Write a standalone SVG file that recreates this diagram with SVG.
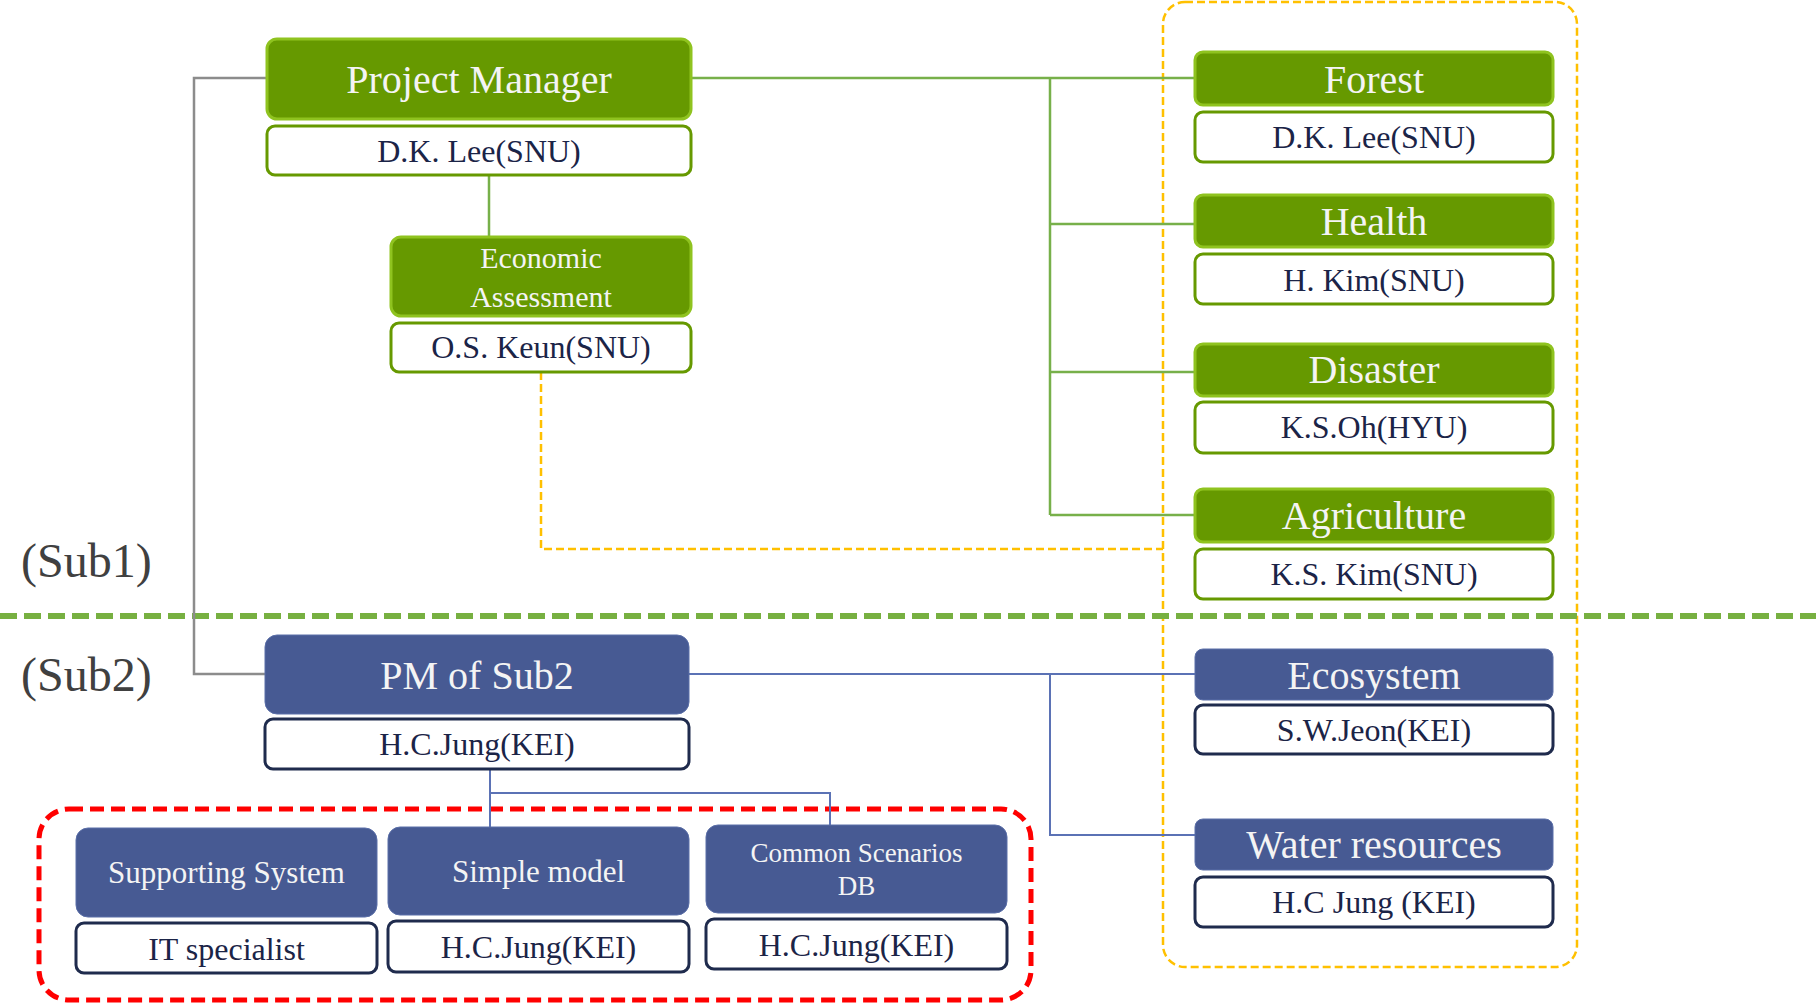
<svg xmlns="http://www.w3.org/2000/svg" width="1816" height="1008" viewBox="0 0 1816 1008">
<style>
text{font-family:"Liberation Serif","Times New Roman",serif;text-anchor:middle}
.gh{fill:#669900;stroke:#8fc31f;stroke-width:3}
.gp{fill:#fff;stroke:#669900;stroke-width:3}
.bh{fill:#475a93;stroke:#5b6fa8;stroke-width:1}
.bp{fill:#fff;stroke:#1f2b4d;stroke-width:3}
.ht{fill:#f4f4f4;font-size:40px}
.pt{fill:#1b2447;font-size:32px}
.st{fill:#f4f4f4;font-size:31px}
.cg{stroke:#77b04a;stroke-width:2.5;fill:none}
.cb{stroke:#5b72b5;stroke-width:2;fill:none}
.cy{stroke:#ffc000;stroke-width:2.5;fill:none;stroke-dasharray:8 4}
.cgr{stroke:#8c8c8c;stroke-width:2.5;fill:none}
.lbl{fill:#404040;font-size:48px;text-anchor:start}
</style>
<rect width="1816" height="1008" fill="#fff"/>
<g id="frames">
<rect x="1163" y="2" width="414" height="965" rx="22" class="cy"/>
<rect x="39" y="809" width="992" height="191" rx="30" fill="none" stroke="#ff0000" stroke-width="5" stroke-dasharray="14 7"/>
<line x1="0" y1="616" x2="1816" y2="616" stroke="#77b041" stroke-width="6" stroke-dasharray="17 7"/>
</g>
<g id="labels">
<text x="21" y="577" class="lbl">(Sub1)</text>
<text x="21" y="691" class="lbl">(Sub2)</text>
</g>
<g id="connectors">
<path class="cgr" d="M267 78 H194 V674 H265"/>
<path class="cg" d="M691 78 H1195 M1050 78 V515 M1050 224 H1195 M1050 372 H1195 M1050 515 H1195 M489 175 V237"/>
<path class="cy" d="M541 372 V549 H1163"/>
<path class="cb" d="M689 674 H1195 M1050 674 V835 H1195 M490 769 V827 M490 793 H830 V825"/>
</g>
<g id="pm">
<rect x="267" y="39" width="424" height="80" rx="10" class="gh"/>
<text x="479" y="93" class="ht">Project Manager</text>
<rect x="267" y="126" width="424" height="49" rx="8" class="gp"/>
<text x="479" y="162" class="pt">D.K. Lee(SNU)</text>
</g>
<g id="econ">
<rect x="391" y="237" width="300" height="79" rx="10" class="gh"/>
<text x="541" y="268" class="ht" style="font-size:30px">Economic</text>
<text x="541" y="307" class="ht" style="font-size:30px">Assessment</text>
<rect x="391" y="323" width="300" height="49" rx="8" class="gp"/>
<text x="541" y="358" class="pt">O.S. Keun(SNU)</text>
</g>
<g id="forest">
<rect x="1195" y="52" width="358" height="53" rx="8" class="gh"/>
<text x="1374" y="93" class="ht">Forest</text>
<rect x="1195" y="112" width="358" height="50" rx="8" class="gp"/>
<text x="1374" y="148" class="pt">D.K. Lee(SNU)</text>
</g>
<g id="health">
<rect x="1195" y="195" width="358" height="52" rx="8" class="gh"/>
<text x="1374" y="235" class="ht">Health</text>
<rect x="1195" y="254" width="358" height="50" rx="8" class="gp"/>
<text x="1374" y="291" class="pt">H. Kim(SNU)</text>
</g>
<g id="disaster">
<rect x="1195" y="344" width="358" height="52" rx="8" class="gh"/>
<text x="1374" y="383" class="ht">Disaster</text>
<rect x="1195" y="402" width="358" height="51" rx="8" class="gp"/>
<text x="1374" y="438" class="pt">K.S.Oh(HYU)</text>
</g>
<g id="agriculture">
<rect x="1195" y="489" width="358" height="53" rx="8" class="gh"/>
<text x="1374" y="529" class="ht">Agriculture</text>
<rect x="1195" y="549" width="358" height="50" rx="8" class="gp"/>
<text x="1374" y="585" class="pt">K.S. Kim(SNU)</text>
</g>
<g id="pm2">
<rect x="265" y="635" width="424" height="79" rx="12" class="bh"/>
<text x="477" y="689" class="ht">PM of Sub2</text>
<rect x="265" y="719" width="424" height="50" rx="8" class="bp"/>
<text x="477" y="755" class="pt">H.C.Jung(KEI)</text>
</g>
<g id="ecosystem">
<rect x="1195" y="649" width="358" height="51" rx="8" class="bh"/>
<text x="1374" y="689" class="ht">Ecosystem</text>
<rect x="1195" y="705" width="358" height="49" rx="8" class="bp"/>
<text x="1374" y="741" class="pt">S.W.Jeon(KEI)</text>
</g>
<g id="water">
<rect x="1195" y="819" width="358" height="51" rx="8" class="bh"/>
<text x="1374" y="858" class="ht">Water resources</text>
<rect x="1195" y="877" width="358" height="50" rx="8" class="bp"/>
<text x="1374" y="913" class="pt">H.C Jung (KEI)</text>
</g>
<g id="supporting">
<rect x="76" y="828" width="301" height="89" rx="12" class="bh"/>
<text x="226.5" y="883" class="st">Supporting System</text>
<rect x="76" y="923" width="301" height="50" rx="8" class="bp"/>
<text x="226.5" y="960" class="pt">IT specialist</text>
</g>
<g id="simple">
<rect x="388" y="827" width="301" height="88" rx="12" class="bh"/>
<text x="538.5" y="882" class="st">Simple model</text>
<rect x="388" y="921" width="301" height="51" rx="8" class="bp"/>
<text x="538.5" y="958" class="pt">H.C.Jung(KEI)</text>
</g>
<g id="common">
<rect x="706" y="825" width="301" height="88" rx="12" class="bh"/>
<text x="856.5" y="862" class="st" style="font-size:27px">Common Scenarios</text>
<text x="856.5" y="895" class="st" style="font-size:27px">DB</text>
<rect x="706" y="919" width="301" height="50" rx="8" class="bp"/>
<text x="856.5" y="956" class="pt">H.C.Jung(KEI)</text>
</g>
</svg>
